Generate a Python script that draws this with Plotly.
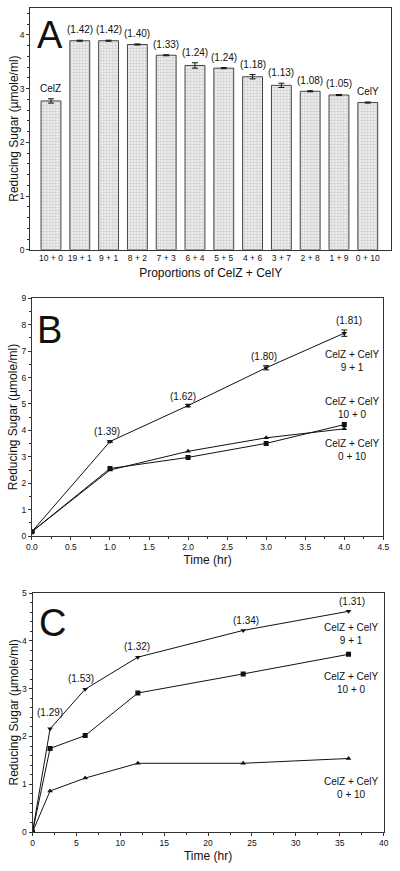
import plotly.graph_objects as go

# ---------------- Data ----------------
# Panel A
props = ["10 + 0", "19 + 1", "9 + 1", "8 + 2", "7 + 3", "6 + 4", "5 + 5",
         "4 + 6", "3 + 7", "2 + 8", "1 + 9", "0 + 10"]
sugar_a = [2.77, 3.89, 3.89, 3.82, 3.62, 3.43, 3.38, 3.22, 3.06, 2.95, 2.88, 2.74]
err_a = [0.04, 0.01, 0.01, 0.01, 0.01, 0.05, 0.01, 0.04, 0.04, 0.01, 0.01, 0.01]
labels_a = ["CelZ", "(1.42)", "(1.42)", "(1.40)", "(1.33)", "(1.24)", "(1.24)",
            "(1.18)", "(1.13)", "(1.08)", "(1.05)", "CelY"]

# Panel B
time_b = [0, 1, 2, 3, 4]
b_91 = [0.17, 3.58, 4.94, 6.37, 7.68]
b_91_err = [0.02, 0.03, 0.05, 0.08, 0.12]
b_100 = [0.17, 2.56, 2.98, 3.51, 4.22]
b_010 = [0.17, 2.50, 3.21, 3.72, 4.06]
ratio_b = ["(1.39)", "(1.62)", "(1.80)", "(1.81)"]

# Panel C
time_c = [0, 2, 6, 12, 24, 36]
c_91 = [0.0, 2.16, 2.99, 3.66, 4.22, 4.62]
c_100 = [0.0, 1.75, 2.02, 2.91, 3.31, 3.72]
c_010 = [0.0, 0.86, 1.13, 1.44, 1.44, 1.54]
ratio_c = ["(1.29)", "(1.53)", "(1.32)", "(1.34)", "(1.31)"]

FONT = "Liberation Sans, Arial, sans-serif"
BLACK = "#111111"

fig = go.Figure()

# ---------------- Panel A ----------------
xa = list(range(len(props)))
fig.add_trace(go.Bar(
    x=xa, y=sugar_a, xaxis="x", yaxis="y",
    marker=dict(color="#e0e0e0",
                line=dict(color="#444444", width=1),
                pattern=dict(shape="+", fgcolor="#a8a8a8", bgcolor="#ededed",
                             size=3, solidity=0.35)),
    error_y=dict(type="data", array=err_a, color=BLACK, thickness=1, width=3),
    showlegend=False,
))

annotations = []
for i, (v, e, t) in enumerate(zip(sugar_a, err_a, labels_a)):
    annotations.append(dict(x=i, y=v + e, xref="x", yref="y", text=t,
                            showarrow=False, yanchor="bottom", yshift=3,
                            font=dict(size=10, family=FONT, color=BLACK)))

# ---------------- Panel B ----------------
line_style = dict(color=BLACK, width=1)
fig.add_trace(go.Scatter(x=time_b, y=b_91, xaxis="x2", yaxis="y2",
                         mode="lines+markers", line=line_style,
                         marker=dict(symbol="triangle-down", size=5, color=BLACK),
                         error_y=dict(type="data", array=b_91_err, color=BLACK,
                                      thickness=1, width=3),
                         showlegend=False))
fig.add_trace(go.Scatter(x=time_b, y=b_100, xaxis="x2", yaxis="y2",
                         mode="lines+markers", line=line_style,
                         marker=dict(symbol="square", size=5, color=BLACK),
                         showlegend=False))
fig.add_trace(go.Scatter(x=time_b, y=b_010, xaxis="x2", yaxis="y2",
                         mode="lines+markers", line=line_style,
                         marker=dict(symbol="triangle-up", size=5, color=BLACK),
                         showlegend=False))

ratio_b_pos = [(0.96, 3.95), (1.94, 5.30), (2.97, 6.80), (4.06, 8.17)]
for (x, y), t in zip(ratio_b_pos, ratio_b):
    annotations.append(dict(x=x, y=y, xref="x2", yref="y2", text=t,
                            showarrow=False,
                            font=dict(size=10, family=FONT, color=BLACK)))

for y, t in [(6.64, "CelZ + CelY<br>9 + 1"), (4.86, "CelZ + CelY<br>10 + 0"),
             (3.26, "CelZ + CelY<br>0 + 10")]:
    annotations.append(dict(x=4.10, y=y, xref="x2", yref="y2", text=t,
                            showarrow=False, align="center",
                            font=dict(size=10, family=FONT, color=BLACK)))

# ---------------- Panel C ----------------
fig.add_trace(go.Scatter(x=time_c, y=c_91, xaxis="x3", yaxis="y3",
                         mode="lines+markers", line=line_style,
                         marker=dict(symbol="triangle-down", size=5, color=BLACK),
                         showlegend=False))
fig.add_trace(go.Scatter(x=time_c, y=c_100, xaxis="x3", yaxis="y3",
                         mode="lines+markers", line=line_style,
                         marker=dict(symbol="square", size=5, color=BLACK),
                         showlegend=False))
fig.add_trace(go.Scatter(x=time_c, y=c_010, xaxis="x3", yaxis="y3",
                         mode="lines+markers", line=line_style,
                         marker=dict(symbol="triangle-up", size=5, color=BLACK),
                         showlegend=False))

ratio_c_pos = [(1.96, 2.50), (5.57, 3.22), (11.9, 3.89), (24.3, 4.43), (36.4, 4.83)]
for (x, y), t in zip(ratio_c_pos, ratio_c):
    annotations.append(dict(x=x, y=y, xref="x3", yref="y3", text=t,
                            showarrow=False,
                            font=dict(size=10, family=FONT, color=BLACK)))

for y, t in [(4.14, "CelZ + CelY<br>9 + 1"), (3.12, "CelZ + CelY<br>10 + 0"),
             (0.93, "CelZ + CelY<br>0 + 10")]:
    annotations.append(dict(x=36.3, y=y, xref="x3", yref="y3", text=t,
                            showarrow=False, align="center",
                            font=dict(size=10, family=FONT, color=BLACK)))

# Panel letters
for letter, x, y in [("A", 0.075, 0.965), ("B", 0.075, 0.623), ("C", 0.08, 0.282)]:
    annotations.append(dict(x=x, y=y, xref="paper", yref="paper", text=letter,
                            showarrow=False, xanchor="left", yanchor="middle",
                            font=dict(size=38, family=FONT, color=BLACK)))

# Y titles
for yc in [0.856, 0.521, 0.178]:
    annotations.append(dict(x=0.02, y=yc, xref="paper", yref="paper",
                            text="Reducing Sugar (µmole/ml)", textangle=-90,
                            showarrow=False, xanchor="center", yanchor="middle",
                            font=dict(size=12, family=FONT, color=BLACK)))

tickfont = dict(size=8.5, family=FONT, color=BLACK)
titlefont = dict(size=12, family=FONT, color=BLACK)


def axis(**kw):
    base = dict(showline=True, linecolor="#333333", linewidth=1, mirror=True,
                ticks="outside", ticklen=3, tickcolor="#333333", tickwidth=1,
                showgrid=False, zeroline=False, tickfont=tickfont, fixedrange=True)
    base.update(kw)
    return base


fig.update_layout(
    width=400, height=871,
    margin=dict(l=0, r=0, t=0, b=0),
    paper_bgcolor="white", plot_bgcolor="white",
    bargap=0.31,
    font=dict(family=FONT, color=BLACK),
    xaxis=axis(domain=[0.0625, 0.9925], anchor="y", range=[-0.72, 11.81],
               tickmode="array", tickvals=xa, ticktext=props, ticklen=0,
               title=dict(text="Proportions of CelZ + CelY", font=titlefont, standoff=6)),
    yaxis=axis(domain=[0.7156, 0.9966], anchor="x", range=[0, 4.5],
               tickvals=[0, 1, 2, 3, 4],
               minor=dict(dtick=0.2, ticks="outside", ticklen=2, tickcolor="#333333")),
    xaxis2=axis(domain=[0.0667, 0.9725], anchor="y2", range=[0, 4.5], dtick=0.5,
                tickformat=".1f",
                minor=dict(dtick=0.25, ticks="outside", ticklen=2, tickcolor="#333333"),
                title=dict(text="Time (hr)", font=titlefont, standoff=4)),
    yaxis2=axis(domain=[0.3831, 0.6594], anchor="x2", range=[0, 9], dtick=1,
                minor=dict(dtick=0.5, ticks="outside", ticklen=2, tickcolor="#333333")),
    xaxis3=axis(domain=[0.0683, 0.9733], anchor="y3", range=[0, 40], dtick=5,
                minor=dict(dtick=2.5, ticks="outside", ticklen=2, tickcolor="#333333"),
                title=dict(text="Time (hr)", font=titlefont, standoff=4)),
    yaxis3=axis(domain=[0.0394, 0.3169], anchor="x3", range=[0, 5], dtick=1,
                minor=dict(dtick=0.2, ticks="outside", ticklen=2, tickcolor="#333333")),
    annotations=annotations,
)

fig.write_html(
    "out.html",
    config={"displayModeBar": False},
    post_script="document.body.style.margin='0';document.body.style.overflow='hidden';",
)
